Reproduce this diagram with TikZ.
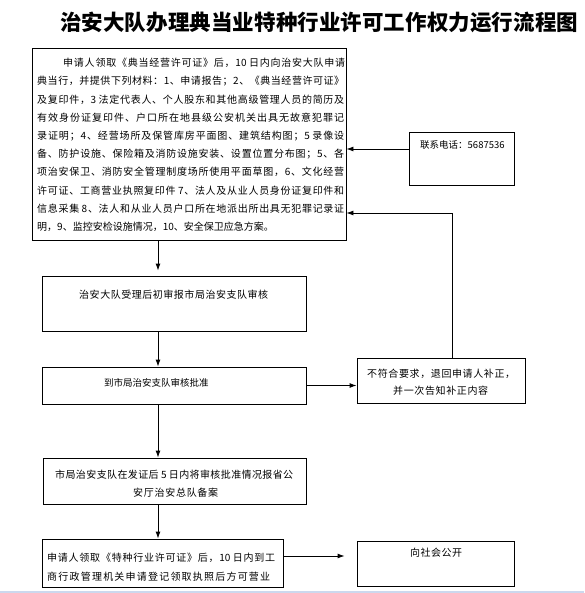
\documentclass[tikz,border=0pt]{standalone}
\usepackage{fontspec}
\setmainfont{Noto Sans CJK SC}
\usetikzlibrary{arrows.meta}
\newcount\cjkcnt
\XeTeXinterchartokenstate=1
\newXeTeXintercharclass\CJKcls
\def\setcls#1#2{\cjkcnt=#1\relax\loop\XeTeXcharclass\cjkcnt=\CJKcls\relax\ifnum\cjkcnt<#2\relax\advance\cjkcnt by 1\relax\repeat}
\setcls{"4E00}{"9FFF}
\setcls{"3000}{"303F}
\setcls{"FF00}{"FFEF}
\XeTeXinterchartoks\CJKcls\CJKcls={\hskip0pt plus 4pt\relax}
\XeTeXinterchartoks\CJKcls 0={\hskip0pt plus 4pt\relax}
\XeTeXinterchartoks 0\CJKcls={\hskip0pt plus 4pt\relax}
\newcommand{\jl}[2]{\makebox[#1][s]{#2}}
\definecolor{bandblue}{RGB}{204,216,238}
\tikzset{
  box/.style={draw, line width=0.9pt, inner sep=0pt, rectangle},
  txt/.style={inner sep=0pt, anchor=base west, font=\fontsize{10pt}{12pt}\selectfont},
  arr/.style={line width=0.9pt, -{Latex[length=7pt,width=5pt]}},
  ln/.style={line width=0.9pt}
}
\begin{document}
\begin{tikzpicture}[x=1pt,y=-1pt]
\fill[white] (0,0) rectangle (584,593);
\useasboundingbox (0,0) rectangle (584,593);
\fill[bandblue] (0,590.5) rectangle (584,593);

% title
\node[inner sep=0pt, anchor=west, font=\fontsize{21.5pt}{24pt}\selectfont\bfseries] (title) at (60,22)
  {\jl{518pt}{治安大队办理典当业特种行业许可工作权力运行流程图}};

% boxes
\node[box, minimum width=314pt, minimum height=192pt] (b1) at (189,144) {};
\node[box, minimum width=105pt, minimum height=53pt] (phone) at (461.5,158.5) {};
\node[box, minimum width=264pt, minimum height=55pt] (b2) at (174,303.5) {};
\node[box, minimum width=264pt, minimum height=37pt] (b3) at (174,385.5) {};
\node[box, minimum width=168pt, minimum height=45pt] (b7) at (441,380.5) {};
\node[box, minimum width=263pt, minimum height=46pt] (b4) at (174.5,481) {};
\node[box, minimum width=241pt, minimum height=48pt] (b5) at (162.5,563) {};
\node[box, minimum width=157pt, minimum height=45pt] (b6) at (435.5,563.5) {};

% texts
\node[txt] (t1) at (37,66.8) {\parbox[t]{310pt}{\baselineskip=18.2pt
\hspace*{26pt}\jl{282pt}{申请人领取《典当经营许可证》后，10 日内向治安大队申请}\\
\jl{307pt}{典当行，并提供下列材料：1、申请报告；2、《典当经营许可证》}\\
\jl{307pt}{及复印件，3 法定代表人、个人股东和其他高级管理人员的简历及}\\
\jl{307pt}{有效身份证复印件、户口所在地县级公安机关出具无故意犯罪记}\\
\jl{307pt}{录证明；4、经营场所及保管库房平面图、建筑结构图；5 录像设}\\
\jl{307pt}{备、防护设施、保险箱及消防设施安装、设置位置分布图；5、各}\\
\jl{307pt}{项治安保卫、消防安全管理制度场所使用平面草图，6、文化经营}\\
\jl{307pt}{许可证、工商营业执照复印件 7、法人及从业人员身份证复印件和}\\
\jl{307pt}{信息采集 8、法人和从业人员户口所在地派出所出具无犯罪记录证}\\
明，9、监控安检设施情况，10、安全保卫应急方案。}};

\node[txt, font=\fontsize{9.5pt}{12pt}\selectfont] (tphone) at (420,148.6) {联系电话：5687536};
\node[txt] (t2) at (79,298.8) {\jl{189pt}{治安大队受理后初审报市局治安支队审核}};
\node[txt, font=\fontsize{9.5pt}{12pt}\selectfont] (t3) at (104,386.6) {到市局治安支队审核批准};
\node[txt] (t7) at (367,377.8) {\parbox[t]{160pt}{\baselineskip=17pt
\jl{148pt}{不符合要求，退回申请人补正，}\\
\hspace*{26pt}\jl{95pt}{并一次告知补正内容}}};
\node[txt] (t4) at (55,478.8) {\parbox[t]{250pt}{\baselineskip=18pt
\jl{238pt}{市局治安支队在发证后 5 日内将审核批准情况报省公}\\
\hspace*{78pt}\jl{85pt}{安厅治安总队备案}}};
\node[txt] (t5) at (47,561.8) {\parbox[t]{235pt}{\baselineskip=19pt
\jl{228pt}{申请人领取《特种行业许可证》后，10 日内到工}\\
\jl{223pt}{商行政管理机关申请登记领取执照后方可营业}}};
\node[txt] (t6) at (410,556.8) {\jl{52pt}{向社会公开}};

% helper coordinates
\coordinate (spine) at (158,0);
\coordinate (phy) at (0,149);
\coordinate (ret) at (452,213);
\coordinate (pub) at (0,556);

% connectors
\draw[arr, shorten >=5pt] (b1.south -| spine) -- (b2.north -| spine);
\draw[arr] (b2.south -| spine) -- (b3.north -| spine);
\draw[arr] (b3.south -| spine) -- (b4.north -| spine);
\draw[arr] (b4.south -| spine) -- (b5.north -| spine);
\draw[arr] (phone.west |- phy) -- (b1.east |- phy);
\draw[arr] (b3.east) -- (b7.west |- b3.east);
\draw[arr] (b7.north -| ret) |- (b1.east |- ret);
\draw[arr, shorten >=12pt] (b5.east |- pub) -- (b6.west |- pub);
\end{tikzpicture}
\end{document}
